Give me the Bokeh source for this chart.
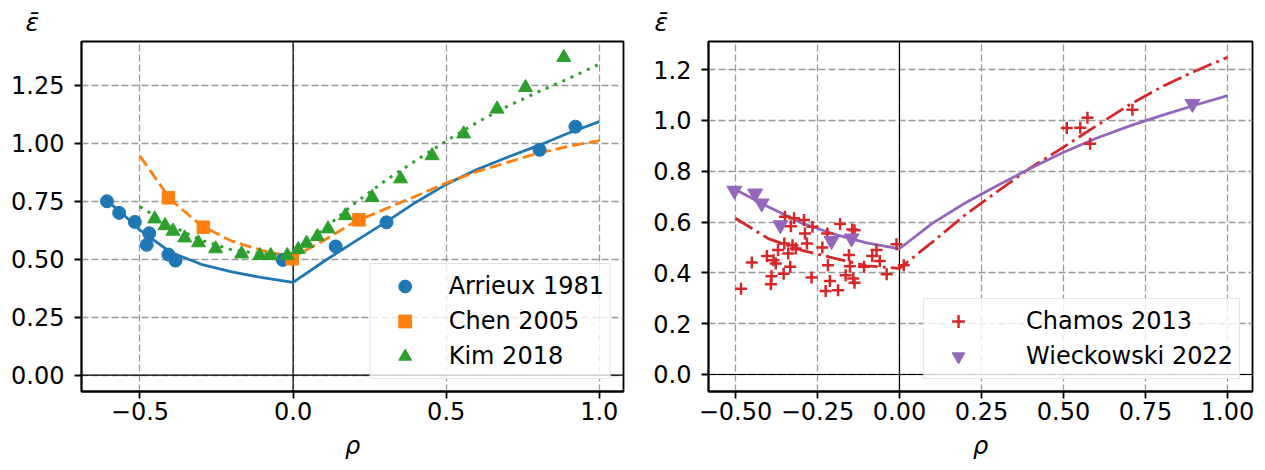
from bokeh.plotting import figure
from bokeh.layouts import row
from bokeh.models import Range1d, FixedTicker, CustomJSTickFormatter, Span
from bokeh.embed import file_html
from bokeh.resources import INLINE

# ---------------- Left panel data ----------------
arrieux_rho = [-0.608, -0.568, -0.517, -0.470, -0.478, -0.407, -0.384, -0.034, 0.139, 0.305, 0.805, 0.922]
arrieux_eps = [0.750, 0.700, 0.661, 0.612, 0.562, 0.520, 0.494, 0.497, 0.555, 0.659, 0.972, 1.072]

chen_rho = [-0.407, -0.293, -0.003, 0.215]
chen_eps = [0.765, 0.638, 0.502, 0.670]

kim_rho = [-0.452, -0.418, -0.392, -0.354, -0.309, -0.253, -0.168, -0.109, -0.073, -0.019,
           0.017, 0.044, 0.079, 0.114, 0.171, 0.258, 0.351, 0.454, 0.557, 0.666, 0.759, 0.884]
kim_eps = [0.674, 0.645, 0.621, 0.592, 0.571, 0.545, 0.523, 0.516, 0.516, 0.516,
           0.542, 0.569, 0.598, 0.631, 0.688, 0.767, 0.847, 0.947, 1.041, 1.148, 1.241, 1.371]

arrieux_fit_rho = [-0.61, -0.55, -0.5, -0.4, -0.3, -0.2, -0.1, 0.0, 0.1, 0.2, 0.3, 0.4, 0.5, 0.6, 0.7, 0.8, 0.9, 1.0]
arrieux_fit_eps = [0.755, 0.688, 0.625, 0.530, 0.478, 0.445, 0.420, 0.400, 0.490, 0.575, 0.658, 0.745, 0.823, 0.887, 0.940, 0.990, 1.045, 1.094]

fit_rho = [-0.5, -0.4, -0.3, -0.2, -0.1, 0.0, 0.1, 0.2, 0.3, 0.4, 0.5, 0.6, 0.7, 0.8, 0.9, 1.0]
chen_fit_eps = [0.945, 0.757, 0.645, 0.578, 0.537, 0.509, 0.581, 0.660, 0.716, 0.772, 0.829, 0.878, 0.918, 0.958, 0.987, 1.012]
kim_fit_eps = [0.727, 0.645, 0.582, 0.540, 0.523, 0.515, 0.630, 0.740, 0.838, 0.925, 1.010, 1.090, 1.160, 1.222, 1.280, 1.342]

# ---------------- Right panel data ----------------
chamos_rho = [-0.483, -0.450, -0.404, -0.390, -0.392, -0.384, -0.377, -0.370, -0.351, -0.349,
              -0.353, -0.339, -0.333, -0.326, -0.321, -0.316, -0.331, -0.291, -0.282, -0.288,
              -0.265, -0.268, -0.235, -0.220, -0.218, -0.212, -0.225, -0.187, -0.181, -0.154,
              -0.151, -0.164, -0.144, -0.137, -0.141, -0.137, -0.108, -0.083, -0.070, -0.060,
              -0.039, -0.009, 0.013, 0.510, 0.551, 0.573, 0.581, 0.710]
chamos_eps = [0.338, 0.441, 0.466, 0.387, 0.355, 0.450, 0.437, 0.490, 0.516, 0.621,
              0.397, 0.476, 0.424, 0.509, 0.615, 0.496, 0.584, 0.608, 0.516, 0.555,
              0.582, 0.382, 0.500, 0.555, 0.430, 0.368, 0.329, 0.332, 0.592, 0.470,
              0.426, 0.391, 0.571, 0.568, 0.378, 0.361, 0.424, 0.466, 0.490, 0.447,
              0.395, 0.513, 0.430, 0.970, 0.971, 1.011, 0.908, 1.042]

wieck_rho = [-0.503, -0.440, -0.420, -0.363, -0.207, -0.146, 0.893]
wieck_eps = [0.724, 0.713, 0.674, 0.588, 0.526, 0.536, 1.066]

chamos_fit_eps = [0.615, 0.535, 0.490, 0.458, 0.428, 0.418, 0.521, 0.628, 0.722, 0.814, 0.895, 0.979, 1.061, 1.133, 1.194, 1.249]
wieck_fit_eps = [0.728, 0.660, 0.597, 0.553, 0.518, 0.495, 0.595, 0.675, 0.745, 0.812, 0.875, 0.930, 0.978, 1.020, 1.060, 1.098]

left_xticks = [-0.5, 0.0, 0.5, 1.0]
left_yticks = [0.0, 0.25, 0.5, 0.75, 1.0, 1.25]
right_xticks = [-0.5, -0.25, 0.0, 0.25, 0.5, 0.75, 1.0]
right_yticks = [0.0, 0.2, 0.4, 0.6, 0.8, 1.0, 1.2]

BLUE, ORANGE, GREEN, RED, PURPLE = "#1f77b4", "#ff7f0e", "#2ca02c", "#d62728", "#9467bd"
FONT = "DejaVu Sans"
FS = "24px"


def fmt(dec):
    return CustomJSTickFormatter(args=dict(d=dec), code="""
        const s = Math.abs(tick).toFixed(d);
        return (tick < -1e-9 ? "\\u2212" : "") + s;
    """)


def make_fig(width, xr, yr, xticks, yticks, xdec, ydec, bl, br, title_offset):
    p = figure(width=width, height=470, x_range=Range1d(*xr), y_range=Range1d(*yr),
               output_backend="svg", toolbar_location=None,
               min_border_left=bl, min_border_right=br, min_border_top=41, min_border_bottom=79)
    p.background_fill_color = "white"
    p.border_fill_color = "white"
    p.outline_line_color = "black"
    p.outline_line_width = 1.8
    p.outline_line_alpha = 1.0
    p.title.text = "ε\u0304"
    p.title.align = "left"
    p.title.offset = title_offset
    p.title.standoff = 9
    p.title.text_font = FONT
    p.title.text_font_size = "25px"
    p.title.text_font_style = "italic"
    p.title.text_color = "black"
    p.xaxis.ticker = FixedTicker(ticks=xticks)
    p.yaxis.ticker = FixedTicker(ticks=yticks)
    p.xaxis.formatter = fmt(xdec)
    p.yaxis.formatter = fmt(ydec)
    for ax in (p.xaxis[0], p.yaxis[0]):
        ax.axis_line_color = "black"
        ax.axis_line_width = 1.8
        ax.major_tick_line_color = "black"
        ax.major_tick_line_width = 1.8
        ax.major_tick_out = 7
        ax.major_tick_in = 0
        ax.minor_tick_line_color = None
        ax.major_label_text_font = FONT
        ax.major_label_text_font_size = FS
        ax.major_label_text_color = "black"
        ax.axis_label_text_font = FONT
        ax.axis_label_text_font_size = FS
        ax.axis_label_text_font_style = "italic"
        ax.axis_label_text_color = "black"
    p.xaxis.major_label_standoff = 3
    p.yaxis.major_label_standoff = 10
    p.xaxis.axis_label = "ρ"
    p.xaxis.axis_label_standoff = 9
    for g in (p.xgrid[0], p.ygrid[0]):
        g.grid_line_color = "#999999"
        g.grid_line_width = 1.3
        g.grid_line_dash = "7 3"
    p.add_layout(Span(location=0, dimension="height", line_color="black", line_width=1.2, level="underlay"))
    p.add_layout(Span(location=0, dimension="width", line_color="black", line_width=1.2, level="underlay"))
    return p


def style_legend(p, standoff):
    lg = p.legend[0]
    lg.location = "bottom_right"
    lg.margin = 12
    lg.padding = 6
    lg.spacing = 3
    lg.glyph_width = 56
    lg.glyph_height = 32
    lg.label_height = 32
    lg.label_standoff = standoff
    lg.label_text_font = FONT
    lg.label_text_font_size = FS
    lg.label_text_color = "black"
    lg.border_line_color = "#cccccc"
    lg.border_line_width = 1.5
    lg.background_fill_color = "white"
    lg.background_fill_alpha = 0.8


# ---------------- Left figure ----------------
p1 = make_fig(632, (-0.691, 1.079), (-0.0711, 1.4397), left_xticks, left_yticks, 1, 2, 81, 9, -56)
p1.line(arrieux_fit_rho, arrieux_fit_eps, line_color=BLUE, line_width=2.8)
p1.line(fit_rho, chen_fit_eps, line_color=ORANGE, line_width=2.8, line_dash="12 5")
p1.line(fit_rho, kim_fit_eps, line_color=GREEN, line_width=3, line_dash="3 6")
p1.scatter(arrieux_rho, arrieux_eps, marker="circle", size=13, fill_color=BLUE, line_color=BLUE,
           legend_label="Arrieux 1981")
p1.scatter(chen_rho, chen_eps, marker="square", size=12.5, fill_color=ORANGE, line_color=ORANGE,
           legend_label="Chen 2005")
p1.scatter(kim_rho, kim_eps, marker="triangle", size=14, fill_color=GREEN, line_color=GREEN,
           legend_label="Kim 2018")
style_legend(p1, 16)

# ---------------- Right figure ----------------
p2 = make_fig(633, (-0.582, 1.076), (-0.067, 1.311), right_xticks, right_yticks, 2, 1, 76, 13, -54)
p2.line(fit_rho, chamos_fit_eps, line_color=RED, line_width=2.8, line_dash="20 5 3 5")
p2.line(fit_rho, wieck_fit_eps, line_color=PURPLE, line_width=2.8)
p2.scatter(chamos_rho, chamos_eps, marker="cross", size=12, line_color=RED, line_width=2.5,
           legend_label="Chamos 2013")
p2.scatter(wieck_rho, wieck_eps, marker="inverted_triangle", size=15, fill_color=PURPLE, line_color=PURPLE,
           legend_label="Wieckowski 2022")
style_legend(p2, 40)

layout = row(p1, p2)
open("out.html", "w").write(file_html(layout, INLINE))
